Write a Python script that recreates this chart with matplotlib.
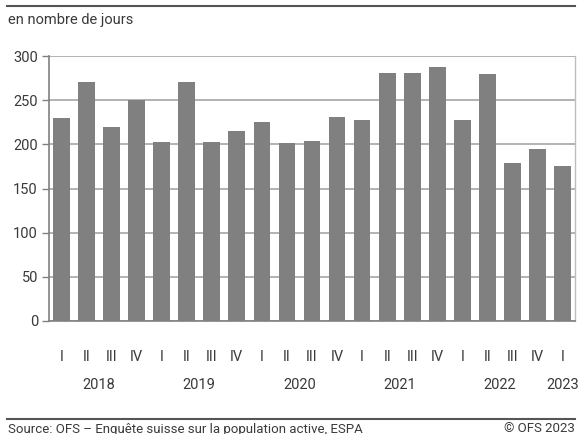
import matplotlib
matplotlib.use("Agg")
import matplotlib.pyplot as plt
from matplotlib.lines import Line2D

# Nombre de jours par trimestre, 2018 I - 2023 I
quarters = ["I", "II", "III", "IV"] * 5 + ["I"]
values = [230, 271, 220, 250, 203, 271, 203, 215, 225, 202,
          204, 231, 228, 281, 281, 288, 228, 280, 179, 195, 175]
years = ["2018", "2019", "2020", "2021", "2022", "2023"]
year_pos = [1.5, 5.5, 9.5, 13.5, 17.5, 20]

plt.rcParams['font.family'] = ['Roboto', 'DejaVu Sans']
txt = "#3a3a3a"

fig = plt.figure(figsize=(5.81, 4.34), dpi=100)
ax = fig.add_axes([49 / 581, 1 - 321 / 434, 526 / 581, 265 / 434])

x = list(range(len(values)))
ax.bar(x, values, width=0.67, color="#808080", zorder=2)

ax.set_xlim(-0.5, len(values) - 0.5)
ax.set_ylim(0, 300)
ax.set_yticks(range(0, 301, 50))
ax.yaxis.grid(True, color="#a6a6a6", linewidth=1.2, zorder=0)
ax.set_axisbelow(True)

ax.set_xticks(x)
ax.set_xticklabels(quarters)
ax.tick_params(axis="x", length=0, pad=21, labelsize=10.5, labelcolor=txt)
ax.tick_params(axis="y", length=5, width=1, color="#808080", pad=3,
               labelsize=10.5, labelcolor=txt)

ax.spines["top"].set_visible(False)
ax.spines["left"].set_color("#808080")
ax.spines["left"].set_linewidth(1.2)
ax.spines["bottom"].set_color("#808080")
ax.spines["bottom"].set_linewidth(1.2)
ax.spines["right"].set_color("#bdbdbd")
ax.spines["right"].set_linewidth(1)

for yr, pos in zip(years, year_pos):
    ax.text(pos, -0.2415, yr, transform=ax.get_xaxis_transform(),
            ha="center", va="center", fontsize=10.5, color=txt)

fig.add_artist(Line2D([7 / 581, 575 / 581], [1 - 6 / 434, 1 - 6 / 434],
                      color="#555555", linewidth=1.5))
fig.text(8 / 581, 1 - 20 / 434, "en nombre de jours", ha="left", va="center",
         fontsize=10.5, color=txt)

fig.add_artist(Line2D([7 / 581, 575 / 581], [1 - 419 / 434, 1 - 419 / 434],
                      color="#555555", linewidth=1.5))
fig.text(8 / 581, 1 - 429 / 434, "Source: OFS – Enquête suisse sur la population active, ESPA",
         ha="left", va="center", fontsize=9.5, color=txt)
fig.text(575 / 581, 1 - 429 / 434, "© OFS 2023", ha="right", va="center",
         fontsize=9.5, color=txt)

fig.savefig("out.png", dpi=100)
